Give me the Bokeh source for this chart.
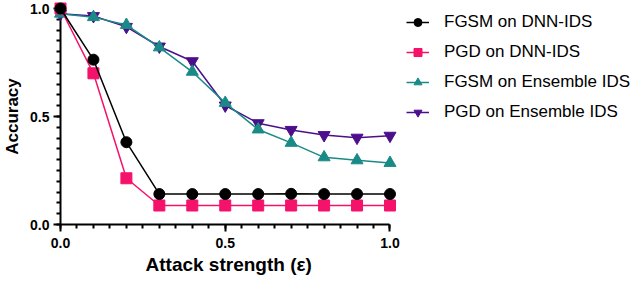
from bokeh.plotting import figure
from bokeh.models import Range1d, FixedTicker, Legend, LegendItem, PrintfTickFormatter, Title
from bokeh.embed import file_html
from bokeh.resources import INLINE

eps = [0.0, 0.1, 0.2, 0.3, 0.4, 0.5, 0.6, 0.7, 0.8, 0.9, 1.0]
fgsm_dnn = [1.0, 0.763, 0.381, 0.141, 0.141, 0.141, 0.141, 0.142, 0.141, 0.141, 0.141]
pgd_dnn = [1.0, 0.70, 0.214, 0.088, 0.088, 0.088, 0.088, 0.088, 0.088, 0.088, 0.088]
fgsm_ens = [0.976, 0.96, 0.924, 0.82, 0.707, 0.563, 0.44, 0.378, 0.311, 0.297, 0.285]
pgd_ens = [0.976, 0.965, 0.915, 0.824, 0.756, 0.551, 0.469, 0.438, 0.414, 0.402, 0.411]

major_ticks = [0.0, 0.5, 1.0]
minor_ticks = [round(0.05 * i, 2) for i in range(21)]

FONT = "Liberation Sans"

# x range extends past 1.0 to leave room for the legend; axes are bounded to [0, 1]
p = figure(width=632, height=278, output_backend="svg", toolbar_location=None,
           x_range=Range1d(0, 1.736), y_range=Range1d(0, 1),
           min_border_left=0, min_border_top=8, min_border_bottom=54, min_border_right=0)
p.outline_line_color = None
p.xgrid.visible = False
p.ygrid.visible = False
p.background_fill_color = None
p.border_fill_color = "white"

for ax in (p.xaxis[0], p.yaxis[0]):
    ax.ticker = FixedTicker(ticks=major_ticks, minor_ticks=minor_ticks)
    ax.formatter = PrintfTickFormatter(format="%.1f")
    ax.bounds = (0, 1)
    ax.axis_line_width = 2
    ax.axis_line_color = "black"
    ax.major_tick_line_width = 2
    ax.minor_tick_line_width = 2
    ax.major_tick_line_color = "black"
    ax.minor_tick_line_color = "black"
    ax.major_tick_out = 7
    ax.major_tick_in = 0
    ax.minor_tick_out = 4
    ax.minor_tick_in = 0
    ax.major_label_text_font = FONT
    ax.major_label_text_font_style = "bold"
    ax.major_label_text_font_size = "14px"
    ax.major_label_text_color = "black"
    ax.axis_label_text_font = FONT
    ax.axis_label_text_font_style = "bold"
    ax.axis_label_text_font_size = "17px"
    ax.axis_label_text_color = "black"

p.xaxis.major_label_standoff = 6
p.yaxis.major_label_standoff = 4
p.yaxis.axis_label_standoff = 5
p.yaxis.axis_label = "Accuracy"

# x-axis title placed under the bounded [0, 1] axis
xtitle = Title(text="Attack strength (ε)", align="left", offset=85,
               standoff=2, text_font=FONT, text_font_style="bold",
               text_font_size="19px", text_color="black")
p.add_layout(xtitle, "below")

series = [
    ("PGD on Ensemble IDS", pgd_ens, "#4B0F8C", "inverted_triangle", 12),
    ("FGSM on Ensemble IDS", fgsm_ens, "#1A8A86", "triangle", 12),
    ("PGD on DNN-IDS", pgd_dnn, "#F5126B", "square", 11),
    ("FGSM on DNN-IDS", fgsm_dnn, "black", "circle", 11),
]
items = {}
for name, vals, color, marker, size in series:
    l = p.line(eps, vals, line_color=color, line_width=1.5, level="overlay")
    s = p.scatter(eps, vals, marker=marker, size=size, fill_color=color,
                  line_color=color, level="overlay")
    items[name] = [l, s]

order = ["FGSM on DNN-IDS", "PGD on DNN-IDS", "FGSM on Ensemble IDS", "PGD on Ensemble IDS"]
legend = Legend(items=[LegendItem(label=n, renderers=items[n]) for n in order],
                location=(346, 102), margin=0, padding=0, spacing=10,
                glyph_width=23, glyph_height=20, label_height=20,
                label_standoff=15, label_text_font=FONT,
                label_text_font_size="17px", label_text_color="black",
                border_line_color=None, background_fill_alpha=0)
p.add_layout(legend, "center")

open("out.html", "w").write(file_html(p, INLINE))
